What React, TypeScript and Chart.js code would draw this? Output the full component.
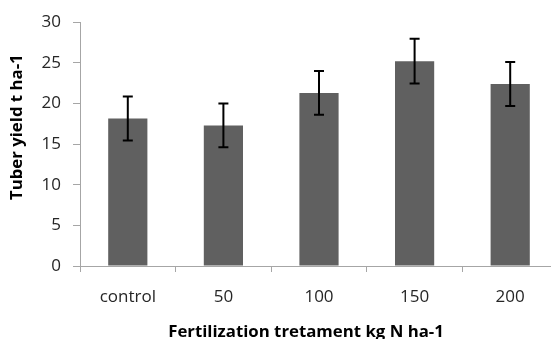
import React, { useEffect, useRef } from "react";
import { Chart, registerables } from "chart.js";

Chart.register(...registerables);

const categories = ["control", "50", "100", "150", "200"];
const yieldValues = [18.15, 17.3, 21.3, 25.2, 22.4];
const yieldErrors = [2.7, 2.7, 2.7, 2.75, 2.7];
const yTicks = [0, 5, 10, 15, 20, 25, 30];
const xTitle = "Fertilization tretament kg N ha-1";
const yTitle = "Tuber yield t ha-1";

const FONT = "'Open Sans', Lato, sans-serif";

const errorBarPlugin = {
  id: "errorBars",
  afterDatasetsDraw(chart: any) {
    const ctx = chart.ctx;
    const meta = chart.getDatasetMeta(0);
    const y = chart.scales.y;
    ctx.save();
    ctx.strokeStyle = "#000000";
    ctx.lineWidth = 2;
    meta.data.forEach((bar: any, i: number) => {
      const v = yieldValues[i];
      const e = yieldErrors[i];
      const x = bar.x;
      const top = y.getPixelForValue(v + e);
      const bot = y.getPixelForValue(v - e);
      ctx.beginPath();
      ctx.moveTo(x, top);
      ctx.lineTo(x, bot);
      ctx.moveTo(x - 5, top);
      ctx.lineTo(x + 5, top);
      ctx.moveTo(x - 5, bot);
      ctx.lineTo(x + 5, bot);
      ctx.stroke();
    });
    ctx.restore();
  },
};

const titlePlugin = {
  id: "axisTitles",
  afterDraw(chart: any) {
    const ctx = chart.ctx;
    const a = chart.chartArea;
    ctx.save();
    ctx.fillStyle = "#000000";
    ctx.font = "bold 16.8px " + FONT;
    ctx.textAlign = "center";
    ctx.textBaseline = "middle";
    ctx.fillText(xTitle, a.left + 226, a.bottom + 66);
    ctx.translate(a.left - 63, a.top + 105);
    ctx.rotate(-Math.PI / 2);
    ctx.fillText(yTitle, 0, 0);
    ctx.restore();
  },
};

export default function App() {
  const ref = useRef<HTMLCanvasElement>(null);
  useEffect(() => {
    document.body.style.margin = "0";
    const chart = new Chart(ref.current!, {
      type: "bar",
      data: {
        labels: categories,
        datasets: [
          {
            data: yieldValues,
            backgroundColor: "#606060",
            borderWidth: 0,
            barPercentage: 0.41,
            categoryPercentage: 1,
          },
        ],
      },
      options: {
        animation: false,
        responsive: false,
        maintainAspectRatio: false,
        layout: { padding: { top: 17, right: 2, left: 0, bottom: 0 } },
        plugins: { legend: { display: false }, tooltip: { enabled: false } },
        scales: {
          x: {
            offset: true,
            grid: {
              offset: true,
              drawOnChartArea: false,
              drawTicks: true,
              tickLength: 6,
              color: "#a6a6a6",
            },
            border: { color: "#a6a6a6", width: 1 },
            ticks: {
              color: "#262626",
              font: { family: FONT, size: 17 },
              padding: 15,
              maxRotation: 0,
            },
            afterFit(s: any) {
              s.height = 73;
            },
          },
          y: {
            min: 0,
            max: 30,
            afterBuildTicks(s: any) {
              s.ticks = yTicks.map((v) => ({ value: v }));
            },
            grid: {
              drawOnChartArea: false,
              drawTicks: true,
              tickLength: 7,
              color: "#a6a6a6",
            },
            border: { color: "#a6a6a6", width: 1 },
            ticks: {
              color: "#262626",
              font: { family: FONT, size: 17 },
              padding: 12,
            },
            afterFit(s: any) {
              s.width = 80;
            },
          },
        },
      },
      plugins: [errorBarPlugin, titlePlugin],
    });
    return () => chart.destroy();
  }, []);
  return (
    <div style={{ width: 551, height: 339, overflow: "hidden", position: "relative" }}>
      <canvas ref={ref} width={560} height={339} style={{ display: "block" }} />
    </div>
  );
}
